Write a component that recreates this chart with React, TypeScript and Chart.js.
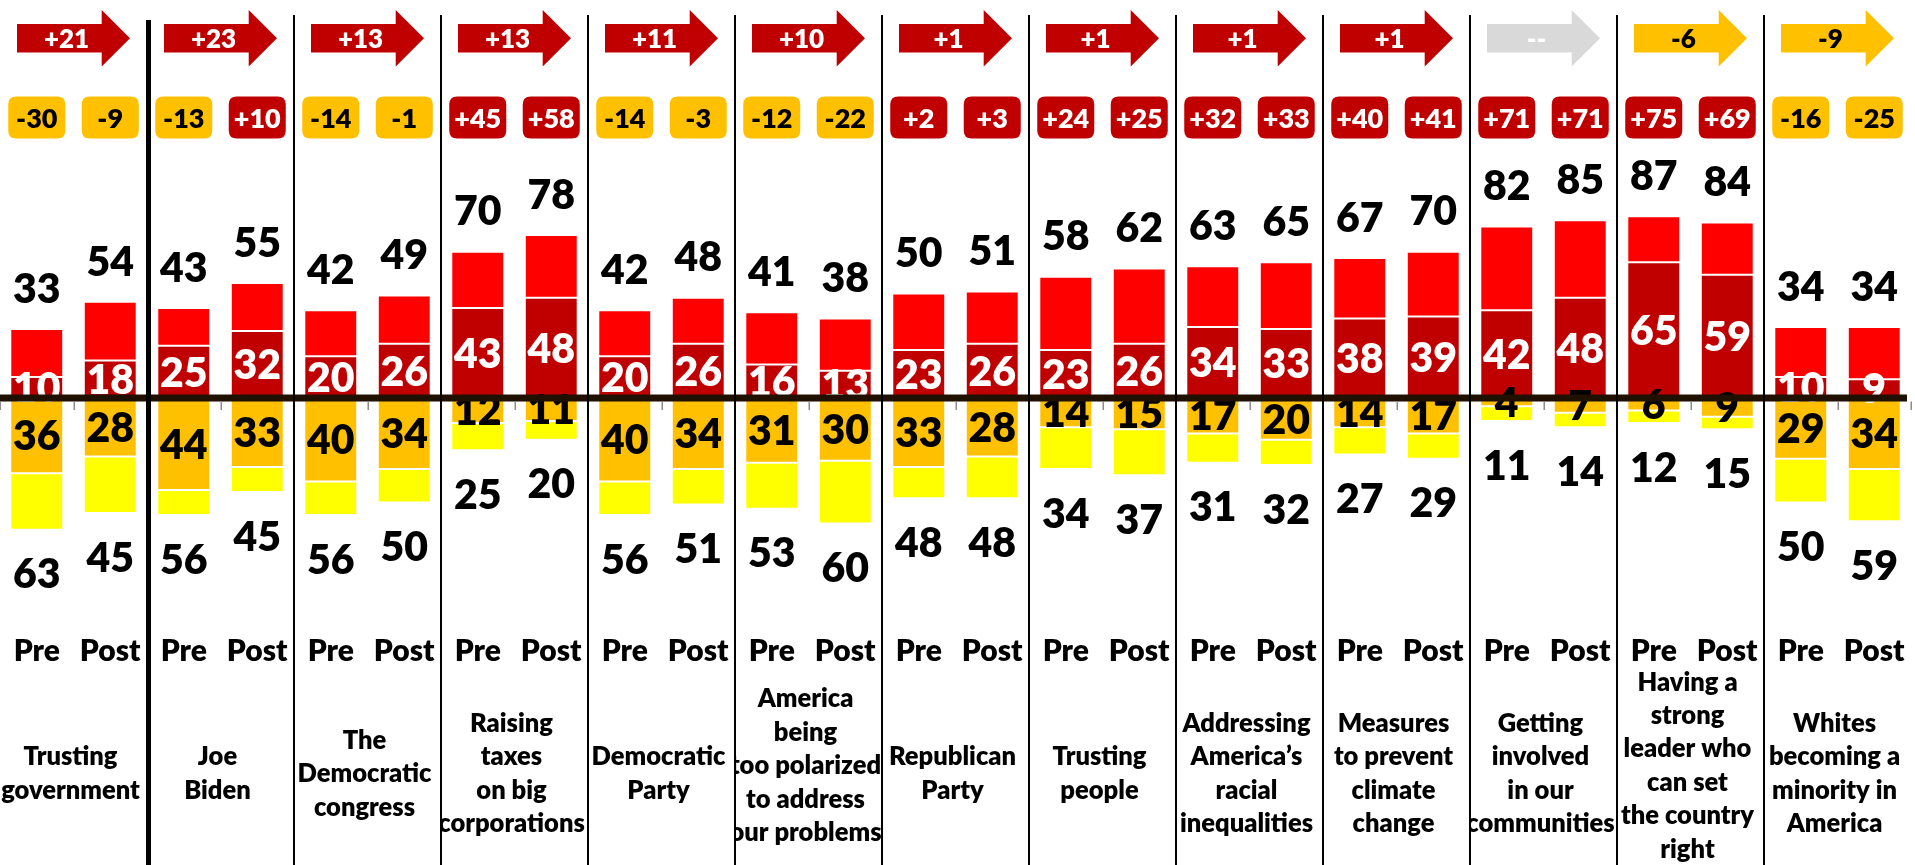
import React, { useEffect, useRef } from "react";
import { Chart, registerables } from "chart.js";

Chart.register(...registerables);

// ---------- data ----------
const topics: string[][] = [
  ["Trusting", "government"],
  ["Joe", "Biden"],
  ["The", "Democratic", "congress"],
  ["Raising", "taxes", "on big", "corporations"],
  ["Democratic", "Party"],
  ["America", "being", "too polarized", "to address", "our problems"],
  ["Republican", "Party"],
  ["Trusting", "people"],
  ["Addressing", "America’s", "racial", "inequalities"],
  ["Measures", "to prevent", "climate", "change"],
  ["Getting", "involved", "in our", "communities"],
  ["Having a", "strong", "leader who", "can set", "the country", "right"],
  ["Whites", "becoming a", "minority in", "America"],
];
const periods = ["Pre", "Post"];
const categories = topics.flatMap(() => periods);

// bar segments (Pre, Post per topic)
const strongPositive = [10, 18, 25, 32, 20, 26, 43, 48, 20, 26, 16, 13, 23, 26, 23, 26, 34, 33, 38, 39, 42, 48, 65, 59, 10, 9];
const somewhatPositive = [23, 28, 18, 23, 22, 23, 27, 30, 22, 22, 25, 25, 27, 25, 35, 36, 29, 32, 29, 31, 40, 37, 22, 25, 24, 25];
const strongNegative = [36, 28, 44, 33, 40, 34, 12, 11, 40, 34, 31, 30, 33, 28, 14, 15, 17, 20, 14, 17, 4, 7, 6, 9, 29, 34];
const somewhatNegative = [27, 27, 12, 12, 16, 16, 13, 9, 16, 17, 22, 30, 15, 20, 20, 22, 14, 12, 13, 12, 7, 7, 6, 6, 21, 25];

// printed labels
const totalPositive = [33, 54, 43, 55, 42, 49, 70, 78, 42, 48, 41, 38, 50, 51, 58, 62, 63, 65, 67, 70, 82, 85, 87, 84, 34, 34];
const totalNegative = [63, 45, 56, 45, 56, 50, 25, 20, 56, 51, 53, 60, 48, 48, 34, 37, 31, 32, 27, 29, 11, 14, 12, 15, 50, 59];
const netScore = [-30, -9, -13, 10, -14, -1, 45, 58, -14, -3, -12, -22, 2, 3, 24, 25, 32, 33, 40, 41, 71, 71, 75, 69, -16, -25];
const netChange: (number | null)[] = [21, 23, 13, 13, 11, 10, 1, 1, 1, 1, null, -6, -9];

// ---------- styles ----------
const DARK_RED = "#c00000";
const RED = "#ff0000";
const ORANGE = "#ffc000";
const YELLOW = "#ffff00";
const GRAY = "#d9d9d9";
const FONT = 'Lato, "Open Sans", sans-serif';
const WEIGHT = 800;

const fmt = (n: number) => (n > 0 ? "+" + n : String(n));

function drawText(ctx: CanvasRenderingContext2D, s: string, x: number, yc: number, size: number, color: string) {
  ctx.font = `${WEIGHT} ${size}px ${FONT}`;
  ctx.fillStyle = color;
  ctx.textAlign = "center";
  ctx.textBaseline = "alphabetic";
  ctx.fillText(s, x, yc + size * 0.358);
}

function roundRect(ctx: CanvasRenderingContext2D, x: number, y: number, w: number, h: number, r: number) {
  ctx.beginPath();
  ctx.moveTo(x + r, y);
  ctx.lineTo(x + w - r, y);
  ctx.quadraticCurveTo(x + w, y, x + w, y + r);
  ctx.lineTo(x + w, y + h - r);
  ctx.quadraticCurveTo(x + w, y + h, x + w - r, y + h);
  ctx.lineTo(x + r, y + h);
  ctx.quadraticCurveTo(x, y + h, x, y + h - r);
  ctx.lineTo(x, y + r);
  ctx.quadraticCurveTo(x, y, x + r, y);
  ctx.closePath();
}

const overlay = {
  id: "overlay",
  afterDatasetsDraw(chart: any) {
    const ctx: CanvasRenderingContext2D = chart.ctx;
    const xs = chart.scales.x;
    const ys = chart.scales.y;
    const area = chart.chartArea;
    const y0 = ys.getPixelForValue(0);
    const step = xs.getPixelForValue(1) - xs.getPixelForValue(0);
    ctx.save();

    // values inside and at ends of bars
    categories.forEach((_, i) => {
      const x = xs.getPixelForValue(i);
      const sp = strongPositive[i];
      const sn = strongNegative[i];
      const topY = ys.getPixelForValue(sp + somewhatPositive[i]);
      const botY = ys.getPixelForValue(-(sn + somewhatNegative[i]));
      drawText(ctx, String(sp), x, (y0 + ys.getPixelForValue(sp)) / 2, 41, "#ffffff");
      drawText(ctx, String(sn), x, (y0 + ys.getPixelForValue(-sn)) / 2, 41, "#000000");
      drawText(ctx, String(totalPositive[i]), x, topY - 41, 41, "#000000");
      drawText(ctx, String(totalNegative[i]), x, botY + 44, 41, "#000000");

      // net badge
      const v = netScore[i];
      const bw = 57, bh = 42;
      roundRect(ctx, x - bw / 2, 96.5, bw, bh, 8);
      ctx.fillStyle = v > 0 ? DARK_RED : ORANGE;
      ctx.fill();
      drawText(ctx, fmt(v), x, 118, 27, v > 0 ? "#ffffff" : "#000000");

      // Pre / Post
      drawText(ctx, categories[i], x, 650, 30, "#000000");
    });

    // zero line with ticks
    ctx.fillStyle = "#1f1000";
    ctx.fillRect(area.left, y0 - 3.5, area.right - area.left - 4, 7);
    ctx.strokeStyle = "#8c8c8c";
    ctx.lineWidth = 1.5;
    for (let k = 0; k <= categories.length; k++) {
      const tx = Math.round(area.left + k * step) + 0.25;
      ctx.beginPath();
      ctx.moveTo(tx, y0 + 3.5);
      ctx.lineTo(tx, y0 + 12);
      ctx.stroke();
    }

    // topic arrows and labels
    topics.forEach((lines, g) => {
      const gx0 = xs.getPixelForValue(2 * g) - step / 2;
      const gx1 = gx0 + 2 * step;
      const cx = (gx0 + gx1) / 2;

      const c = netChange[g];
      const left = cx - 56.5;
      const bodyR = left + 84.7;
      const tip = left + 113;
      const cy = 38.3;
      ctx.beginPath();
      ctx.moveTo(left, cy - 14.3);
      ctx.lineTo(bodyR, cy - 14.3);
      ctx.lineTo(bodyR, cy - 28.3);
      ctx.lineTo(tip, cy);
      ctx.lineTo(bodyR, cy + 28.3);
      ctx.lineTo(bodyR, cy + 14.3);
      ctx.lineTo(left, cy + 14.3);
      ctx.closePath();
      ctx.fillStyle = c === null ? GRAY : c > 0 ? DARK_RED : ORANGE;
      ctx.fill();
      drawText(ctx, c === null ? "--" : fmt(c), cx - 7, cy, 26, c === null || c > 0 ? "#ffffff" : "#000000");

      ctx.save();
      ctx.beginPath();
      ctx.rect(gx0, 560, gx1 - gx0, 305);
      ctx.clip();
      const lh = 33.4;
      const center = lines.length >= 5 ? 765 : 773;
      const start = center - ((lines.length - 1) * lh) / 2;
      lines.forEach((t, j) => drawText(ctx, t, cx - 3, start + j * lh, 25.5, "#000000"));
      ctx.restore();
    });

    // group separators
    ctx.fillStyle = "#000000";
    for (let g = 1; g < topics.length; g++) {
      const bx = area.left + 2 * g * step;
      if (g === 1) ctx.fillRect(bx - 1, 20, 5, 865 - 20);
      else ctx.fillRect(bx - 1, 15, 2, 865 - 15);
    }
    ctx.restore();
  },
};

export default function App() {
  const ref = useRef<HTMLCanvasElement>(null);
  useEffect(() => {
    const seg = (label: string, values: number[], color: string, sign: number) => ({
      label,
      data: values.map((v) => v * sign),
      backgroundColor: color,
      borderColor: "#ffffff",
      borderWidth: 1,
      borderSkipped: false as const,
      stack: "s",
      categoryPercentage: 1,
      barPercentage: 0.72,
    });
    const chart = new Chart(ref.current as HTMLCanvasElement, {
      type: "bar",
      data: {
        labels: categories,
        datasets: [
          seg("Strongly positive", strongPositive, DARK_RED, 1),
          seg("Somewhat positive", somewhatPositive, RED, 1),
          seg("Strongly negative", strongNegative, ORANGE, -1),
          seg("Somewhat negative", somewhatNegative, YELLOW, -1),
        ],
      },
      options: {
        animation: false,
        responsive: false,
        maintainAspectRatio: false,
        layout: { padding: { left: 0, right: 4, top: 0, bottom: 0 } },
        plugins: { legend: { display: false }, tooltip: { enabled: false } },
        scales: {
          x: { display: false, stacked: true, offset: true },
          y: { display: false, stacked: true, min: -223.4, max: 190.4 },
        },
      },
      plugins: [overlay],
    });
    return () => chart.destroy();
  }, []);
  return (
    <div style={{ position: "absolute", left: 0, top: 0, width: 1915, height: 865, background: "#ffffff" }}>
      <canvas ref={ref} width={1915} height={865} style={{ display: "block" }} />
    </div>
  );
}
